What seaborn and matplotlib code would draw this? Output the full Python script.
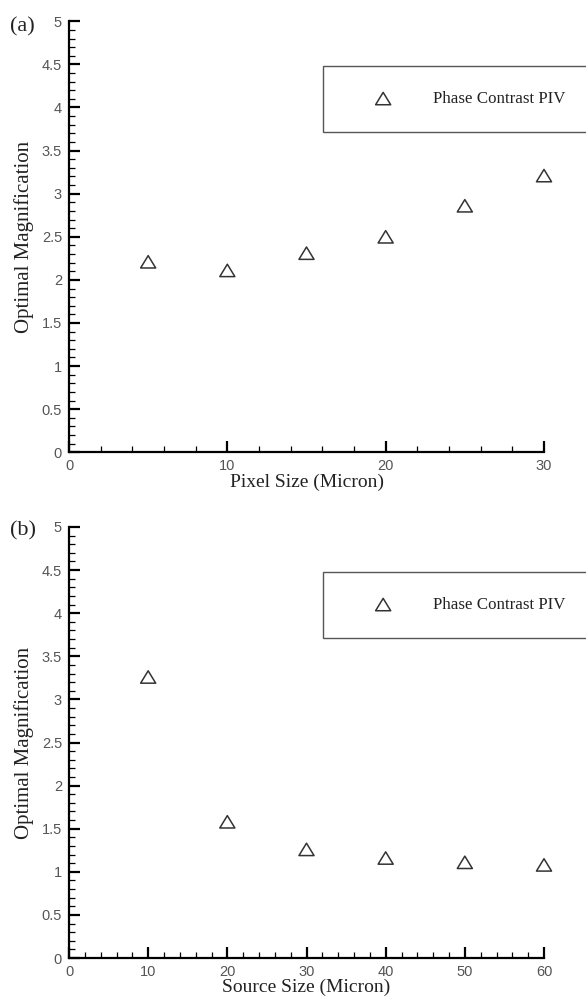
import matplotlib
matplotlib.use("Agg")
import matplotlib.pyplot as plt
from matplotlib.path import Path
from matplotlib.ticker import MultipleLocator, FuncFormatter
import seaborn as sns

# Optimal magnification vs detector pixel size
pixel_size = [5, 10, 15, 20, 25, 30]
mag_vs_pixel = [2.21, 2.11, 2.31, 2.5, 2.86, 3.21]

# Optimal magnification vs X-ray source size
source_size = [10, 20, 30, 40, 50, 60]
mag_vs_source = [3.26, 1.58, 1.26, 1.16, 1.11, 1.08]

series_label = "Phase Contrast PIV"
panel_tags = ["(a)", "(b)"]
x_labels = ["Pixel Size (Micron)", "Source Size (Micron)"]
y_label = "Optimal Magnification"

sns.set_theme(style="ticks")
plt.rcParams["font.family"] = ["Liberation Sans", "DejaVu Sans"]

serif = ["Liberation Serif", "DejaVu Serif"]
ink = "#222222"

# open triangle, a little flatter than tall
tri = Path([(0, 0.82), (-1, -0.82), (1, -0.82), (0, 0.82)],
           [Path.MOVETO, Path.LINETO, Path.LINETO, Path.CLOSEPOLY])

W, H = 586, 997
fig = plt.figure(figsize=(W / 100, H / 100), dpi=100)

ax_left = 69 / W
ax_w = (544 - 69) / W
ax_h = 431 / H
ax_a = fig.add_axes([ax_left, 1 - 452.3 / H, ax_w, ax_h])
ax_b = fig.add_axes([ax_left, 1 - 958 / H, ax_w, ax_h])

fmt = FuncFormatter(lambda v, p: f"{v:g}")

panels = [
    (ax_a, pixel_size, mag_vs_pixel, 30, 66, 132, 27),
    (ax_b, source_size, mag_vs_source, 60, 572, 638, 531),
]

for i, (ax, xs, ys, xmax, box_top, box_bot, tag_y) in enumerate(panels):
    sns.scatterplot(x=xs, y=ys, ax=ax, marker=tri, s=118,
                    fc="none", ec="#333333", linewidth=1.1,
                    label=series_label, clip_on=False, zorder=3)
    ax.set_xlim(0, xmax)
    ax.set_ylim(0, 5)
    ax.xaxis.set_major_locator(MultipleLocator(10))
    ax.xaxis.set_minor_locator(MultipleLocator(2))
    ax.yaxis.set_major_locator(MultipleLocator(0.5))
    ax.yaxis.set_minor_locator(MultipleLocator(0.1))
    ax.xaxis.set_major_formatter(fmt)
    ax.yaxis.set_major_formatter(fmt)
    sns.despine(ax=ax)
    for side in ("left", "bottom"):
        ax.spines[side].set_linewidth(1.6)
        ax.spines[side].set_color("black")
    ax.tick_params(which="major", direction="in", length=8, width=1.6,
                   color="black", labelsize=10.5, labelcolor="#555555", pad=5)
    ax.tick_params(which="minor", direction="in", length=4.3, width=0.9,
                   color="black")
    ax.set_xlabel(x_labels[i], family=serif, fontsize=14, color=ink, labelpad=0)
    ax.set_ylabel(y_label, family=serif, fontsize=15, color=ink)
    ax.yaxis.set_label_coords((34 - 69) / (544 - 69), 0.5)

    # legend box spanning to the right edge
    leg = ax.legend(loc="center", mode="expand",
                    bbox_to_anchor=(323 / W, 1 - box_bot / H, (590 - 323) / W,
                                    (box_bot - box_top) / H),
                    bbox_transform=fig.transFigure, borderaxespad=0,
                    frameon=True, fancybox=False, framealpha=1,
                    borderpad=1.48, handlelength=4.14, handletextpad=0.89,
                    prop={"family": serif, "size": 12.2})
    leg.get_frame().set_edgecolor("#555555")
    leg.get_frame().set_linewidth(1.0)
    for t in leg.get_texts():
        t.set_color(ink)

    fig.text(10 / W, 1 - tag_y / H, panel_tags[i], family=serif, fontsize=16,
             color=ink, ha="left", va="center")

fig.savefig("out.png", dpi=100, facecolor="white")
